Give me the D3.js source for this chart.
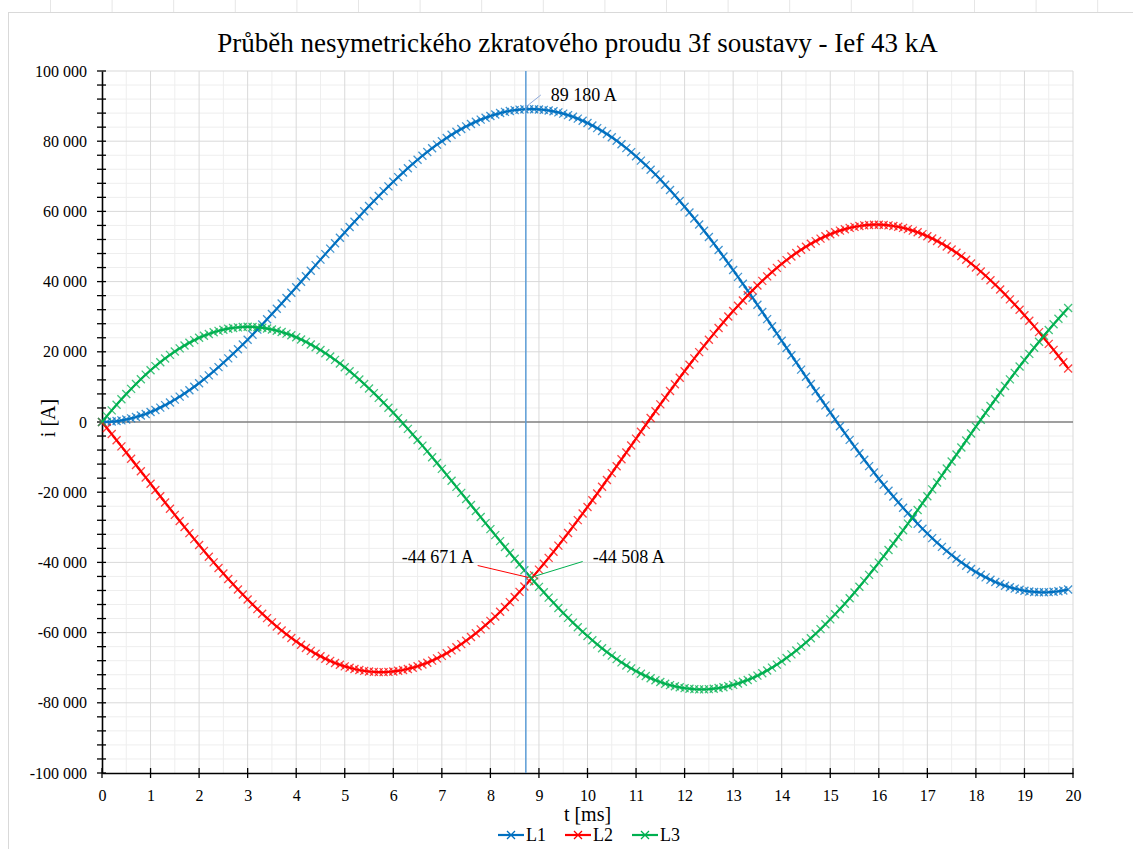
<!DOCTYPE html>
<html>
<head>
<meta charset="utf-8">
<script src="https://cdn.jsdelivr.net/npm/d3@7/dist/d3.min.js"></script>
<style>
  html, body { margin: 0; padding: 0; background: #ffffff; }
  svg { display: block; }
</style>
</head>
<body>
<svg id="chart" width="1133" height="849"></svg>
<script>
// ---- DATA ----
const chartTitle = "Průběh nesymetrického zkratového proudu 3f soustavy - Ief 43 kA";
const xAxisTitle = "t [ms]";
const yAxisTitle = "i [A]";
const seriesNames = ["L1", "L2", "L3"];

const timeMs = [
0,0.1,0.2,0.3,0.4,0.5,0.6,0.7,0.8,0.9,1,1.1,1.2,1.3,1.4,1.5,1.6,1.7,1.8,1.9,
2,2.1,2.2,2.3,2.4,2.5,2.6,2.7,2.8,2.9,3,3.1,3.2,3.3,3.4,3.5,3.6,3.7,3.8,3.9,
4,4.1,4.2,4.3,4.4,4.5,4.6,4.7,4.8,4.9,5,5.1,5.2,5.3,5.4,5.5,5.6,5.7,5.8,5.9,
6,6.1,6.2,6.3,6.4,6.5,6.6,6.7,6.8,6.9,7,7.1,7.2,7.3,7.4,7.5,7.6,7.7,7.8,7.9,
8,8.1,8.2,8.3,8.4,8.5,8.6,8.7,8.8,8.9,9,9.1,9.2,9.3,9.4,9.5,9.6,9.7,9.8,9.9,
10,10.1,10.2,10.3,10.4,10.5,10.6,10.7,10.8,10.9,11,11.1,11.2,11.3,11.4,11.5,11.6,11.7,11.8,11.9,
12,12.1,12.2,12.3,12.4,12.5,12.6,12.7,12.8,12.9,13,13.1,13.2,13.3,13.4,13.5,13.6,13.7,13.8,13.9,
14,14.1,14.2,14.3,14.4,14.5,14.6,14.7,14.8,14.9,15,15.1,15.2,15.3,15.4,15.5,15.6,15.7,15.8,15.9,
16,16.1,16.2,16.3,16.4,16.5,16.6,16.7,16.8,16.9,17,17.1,17.2,17.3,17.4,17.5,17.6,17.7,17.8,17.9,
18,18.1,18.2,18.3,18.4,18.5,18.6,18.7,18.8,18.9,19,19.1,19.2,19.3,19.4,19.5,19.6,19.7,19.8,19.9
];

const currentL1 = [
0,31,121,267,468,725,1040,1408,1829,2303,
2827,3441,4104,4816,5575,6380,7232,8127,9065,10045,
11063,12154,13283,14446,15643,16873,18134,19426,20743,22088,
23455,24876,26319,27780,29258,30750,32258,33776,35305,36841,
38383,39958,41536,43112,44689,46261,47828,49389,50940,52480,
54008,55547,57070,58575,60060,61524,62963,64377,65765,67125,
68454,69774,71061,72315,73531,74710,75848,76946,78003,79017,
79985,80928,81824,82673,83473,84222,84918,85562,86154,86692,
87176,87623,88012,88346,88623,88843,89002,89101,89143,89126,
89050,88931,88752,88514,88216,87859,87439,86961,86425,85829,
85176,84480,83725,82914,82048,81127,80146,79113,78027,76888,
75699,74472,73195,71871,70498,69081,67616,66107,64556,62963,
61332,59675,57982,56253,54490,52696,50869,49012,47129,45220,
43287,41345,39381,37399,35400,33387,31357,29318,27268,25211,
23148,21092,19035,16978,14921,12868,10820,8780,6748,4728,
2719,737,-1229,-3176,-5104,-7011,-8894,-10751,-12581,-14384,
-16156,-17884,-19580,-21241,-22866,-24453,-26000,-27506,-28971,-30393,
-31770,-33090,-34362,-35587,-36763,-37889,-38962,-39982,-40950,-41864,
-42725,-43519,-44255,-44937,-45560,-46128,-46634,-47080,-47469,-47799,
-48070,-48271,-48412,-48494,-48516,-48479,-48379,-48221,-48004,-47729
];

const currentL2 = [
0,-1714,-3442,-5183,-6935,-8697,-10466,-12239,-14017,-15796,
-17575,-19362,-21146,-22923,-24693,-26453,-28202,-29937,-31657,-33361,
-35046,-36719,-38369,-39996,-41598,-43173,-44716,-46230,-47712,-49161,
-50573,-51956,-53301,-54608,-55873,-57097,-58273,-59406,-60492,-61532,
-62524,-63472,-64368,-65215,-66009,-66750,-67434,-68064,-68639,-69158,
-69620,-70029,-70380,-70673,-70908,-71085,-71200,-71256,-71251,-71188,
-71066,-70887,-70649,-70353,-69997,-69584,-69109,-68574,-67984,-67336,
-66632,-65875,-65063,-64196,-63277,-62304,-61276,-60198,-59070,-57892,
-56667,-55398,-54083,-52725,-51323,-49879,-48391,-46866,-45303,-43703,
-42069,-40405,-38710,-36984,-35230,-33450,-31643,-29812,-27960,-26087,
-24197,-22294,-20377,-18447,-16506,-14556,-12597,-10635,-8668,-6700,
-4732,-2771,-813,1138,3082,5016,6940,8848,10743,12620,
14480,16313,18125,19912,21674,23409,25114,26788,28430,30040,
31613,33143,34637,36091,37505,38876,40201,41481,42716,43903,
45044,46128,47161,48144,49075,49952,50773,51539,52251,52906,
53505,54040,54516,54936,55296,55599,55840,56021,56143,56205,
56209,56146,56024,55844,55605,55307,54948,54530,54056,53524,
52936,52286,51581,50820,50008,49142,48222,47251,46229,45158,
44040,42869,41654,40394,39090,37744,36356,34929,33464,31964,
30428,28855,27251,25616,23953,22262,20546,18806,17045,15263
];

const currentL3 = [
0,1683,3321,4916,6467,7972,9426,10831,12188,13493,
14748,15921,17042,18107,19118,20073,20970,21810,22592,23316,
23983,24565,25086,25550,25955,26300,26582,26804,26969,27073,
27118,27080,26982,26828,26615,26347,26015,25630,25187,24691,
24141,23514,22832,22103,21320,20489,19606,18675,17699,16678,
15612,14482,13310,12098,10848,9561,8237,6879,5486,4063,
2612,1113,-412,-1962,-3534,-5126,-6739,-8372,-10019,-11681,
-13353,-15053,-16761,-18477,-20196,-21918,-23642,-25364,-27084,-28800,
-30509,-32225,-33929,-35621,-37300,-38964,-40611,-42235,-43840,-45423,
-46981,-48526,-50042,-51530,-52986,-54409,-55796,-57149,-58465,-59742,
-60979,-62186,-63348,-64467,-65542,-66571,-67549,-68478,-69359,-70188,
-70967,-71701,-72382,-73009,-73580,-74097,-74556,-74955,-75299,-75583,
-75812,-75988,-76107,-76165,-76164,-76105,-75983,-75800,-75559,-75260,
-74900,-74488,-74018,-73490,-72905,-72263,-71558,-70799,-69984,-69114,
-68192,-67220,-66196,-65122,-63996,-62820,-61593,-60319,-58999,-57634,
-56224,-54777,-53287,-51760,-50192,-48588,-46946,-45270,-43562,-41821,
-40053,-38262,-36444,-34603,-32739,-30854,-28948,-27024,-25085,-23131,
-21166,-19196,-17219,-15233,-13245,-11253,-9260,-7269,-5279,-3294,
-1315,650,2601,4543,6470,8384,10278,12151,14005,15835,
17642,19416,21161,22878,24563,26217,27833,29415,30959,32466
];

const xTickValues = [0,1,2,3,4,5,6,7,8,9,10,11,12,13,14,15,16,17,18,19,20];
const xTickLabels = ["0","1","2","3","4","5","6","7","8","9","10","11","12","13","14","15","16","17","18","19","20"];
const yTickValues = [100000,80000,60000,40000,20000,0,-20000,-40000,-60000,-80000,-100000];
const yTickLabels = ["100 000","80 000","60 000","40 000","20 000","0","-20 000","-40 000","-60 000","-80 000","-100 000"];

// cursor + data labels
const cursorTime = 8.73;
const peakL1Value = 89180;
const peakL1Label = "89 180 A";
const crossTime = 8.85;
const crossValue = -44590;
const crossL2Label = "-44 671 A";
const crossL3Label = "-44 508 A";

// ---- STYLE ----
const FONT = "'Liberation Serif', 'Times New Roman', serif";
const colors = ["#0070C0", "#FF0000", "#00B050"];
const svg = d3.select("#chart");
const W = 1133, H = 849;
const plot = {left: 102, right: 1073, top: 71, bottom: 773};

const x = d3.scaleLinear().domain([0, 20]).range([plot.left, plot.right]);
const y = d3.scaleLinear().domain([-100000, 100000]).range([plot.bottom, plot.top]);

svg.append("rect").attr("width", W).attr("height", H).attr("fill", "#fff");

// spreadsheet frame
const frame = svg.append("g");
frame.append("rect").attr("x", 8.5).attr("y", 12.5).attr("width", 1200).attr("height", 900)
  .attr("fill", "none").attr("stroke", "#d9d9d9").attr("stroke-width", 1);
for (let k = 0; k < 19; k++) {
  frame.append("line").attr("x1", 50.5 + k * 61.6).attr("x2", 50.5 + k * 61.6)
    .attr("y1", 0).attr("y2", 12).attr("stroke", "#e6e6e6").attr("stroke-width", 1);
}

// grid
const grid = svg.append("g");
const xMinor = d3.range(0.5, 20, 1);
const yMinor = d3.range(-96000, 100000, 4000).filter(v => v % 20000 !== 0);
grid.selectAll(".vxm").data(xMinor).join("line")
  .attr("x1", d => x(d)).attr("x2", d => x(d)).attr("y1", plot.top).attr("y2", plot.bottom)
  .attr("stroke", "#eeeeee").attr("stroke-width", 1);
grid.selectAll(".hym").data(yMinor).join("line")
  .attr("x1", plot.left).attr("x2", plot.right).attr("y1", d => y(d)).attr("y2", d => y(d))
  .attr("stroke", "#eeeeee").attr("stroke-width", 1);
grid.selectAll(".vx").data(xTickValues.slice(1)).join("line")
  .attr("x1", d => x(d)).attr("x2", d => x(d)).attr("y1", plot.top).attr("y2", plot.bottom)
  .attr("stroke", "#d9d9d9").attr("stroke-width", 1);
grid.selectAll(".hy").data(yTickValues.filter(v => v !== 0 && v !== -100000)).join("line")
  .attr("x1", plot.left).attr("x2", plot.right).attr("y1", d => y(d)).attr("y2", d => y(d))
  .attr("stroke", "#d9d9d9").attr("stroke-width", 1);

// zero line
svg.append("line").attr("x1", plot.left).attr("x2", plot.right).attr("y1", y(0)).attr("y2", y(0))
  .attr("stroke", "#7f7f7f").attr("stroke-width", 1.6);

// axes
const yAxis = d3.axisLeft(y).tickValues(yTickValues).tickFormat((d, i) => yTickLabels[i]).tickSize(0).tickPadding(15);
const gy = svg.append("g").attr("transform", `translate(${plot.left},0)`).call(yAxis)
  .attr("font-family", FONT).attr("font-size", 16);
gy.select(".domain").attr("stroke", "#000").attr("stroke-width", 1.6);
const yMinorAll = d3.range(-100000, 100001, 4000);
gy.selectAll(".mt").data(yMinorAll).join("line").attr("class", "mt")
  .attr("x1", -5).attr("x2", 4).attr("y1", d => y(d)).attr("y2", d => y(d))
  .attr("stroke", "#000").attr("stroke-width", 1.3);

const xAxis = d3.axisBottom(x).tickValues(xTickValues).tickFormat((d, i) => xTickLabels[i]).tickSize(0).tickPadding(17);
const gx = svg.append("g").attr("transform", `translate(0,${plot.bottom})`).call(xAxis)
  .attr("font-family", FONT).attr("font-size", 16);
gx.select(".domain").attr("stroke", "#000").attr("stroke-width", 1.6);
gx.selectAll(".mt").data(xTickValues).join("line").attr("class", "mt")
  .attr("x1", d => x(d)).attr("x2", d => x(d)).attr("y1", -5).attr("y2", 5)
  .attr("stroke", "#000").attr("stroke-width", 1.3);

// series
const seriesData = [currentL1, currentL2, currentL3];
const line = d3.line().x((d, i) => x(timeMs[i])).y(d => y(d));
const markerPath = "M-4,-4L4,4M-4,4L4,-4";
seriesData.forEach((vals, s) => {
  const g = svg.append("g");
  g.append("path").datum(vals).attr("d", line).attr("fill", "none")
    .attr("stroke", colors[s]).attr("stroke-width", 2.2).attr("stroke-linejoin", "round");
  g.selectAll("path.m").data(vals).join("path").attr("class", "m")
    .attr("d", markerPath)
    .attr("transform", (d, i) => `translate(${x(timeMs[i])},${y(d)})`)
    .attr("stroke", colors[s]).attr("stroke-width", 1.3).attr("stroke-opacity", 0.75).attr("fill", "none");
});

// cursor line
svg.append("line").attr("x1", x(cursorTime)).attr("x2", x(cursorTime))
  .attr("y1", plot.top).attr("y2", plot.bottom)
  .attr("stroke", "#5B9BD5").attr("stroke-width", 1.5);

// data labels
const labels = svg.append("g").attr("font-family", FONT).attr("font-size", 18);
const px = x(cursorTime), py = y(peakL1Value);
labels.append("line").attr("x1", px).attr("y1", py - 2).attr("x2", px + 15).attr("y2", py - 14)
  .attr("stroke", "#8FAADC").attr("stroke-width", 1);
labels.append("text").attr("x", px + 25).attr("y", py - 8).text(peakL1Label);

const cx = x(crossTime), cy = y(crossValue);
labels.append("line").attr("x1", cx - 3).attr("y1", cy - 1).attr("x2", cx - 54).attr("y2", cy - 13)
  .attr("stroke", "#FF0000").attr("stroke-width", 1);
labels.append("text").attr("x", cx - 58).attr("y", cy - 16).attr("text-anchor", "end").text(crossL2Label);
labels.append("line").attr("x1", cx - 1).attr("y1", cy - 1).attr("x2", cx + 51).attr("y2", cy - 17)
  .attr("stroke", "#00B050").attr("stroke-width", 1);
labels.append("text").attr("x", cx + 61).attr("y", cy - 16).text(crossL3Label);

// titles
const titles = svg.append("g").attr("font-family", FONT);
titles.append("text").attr("x", (plot.left + plot.right) / 2 - 10).attr("y", 52)
  .attr("text-anchor", "middle").attr("font-size", 27).text(chartTitle);
titles.append("text").attr("x", (plot.left + plot.right) / 2).attr("y", 821)
  .attr("text-anchor", "middle").attr("font-size", 20).text(xAxisTitle);
titles.append("text").attr("transform", `translate(48,${(plot.top + plot.bottom) / 2 - 4}) rotate(-90)`)
  .attr("text-anchor", "middle").attr("dominant-baseline", "central")
  .attr("font-size", 20).text(yAxisTitle);

// legend
const legendX = [498, 565, 632];
seriesNames.forEach((name, s) => {
  const g = svg.append("g").attr("transform", `translate(${legendX[s]},835)`);
  g.append("line").attr("x1", 0).attr("x2", 26).attr("y1", 0).attr("y2", 0)
    .attr("stroke", colors[s]).attr("stroke-width", 2.2);
  g.append("path").attr("d", markerPath).attr("transform", "translate(13,0)")
    .attr("stroke", colors[s]).attr("stroke-width", 1.3).attr("fill", "none");
  g.append("text").attr("x", 28).attr("y", 6).attr("font-family", FONT).attr("font-size", 18).text(name);
});
</script>
</body>
</html>
